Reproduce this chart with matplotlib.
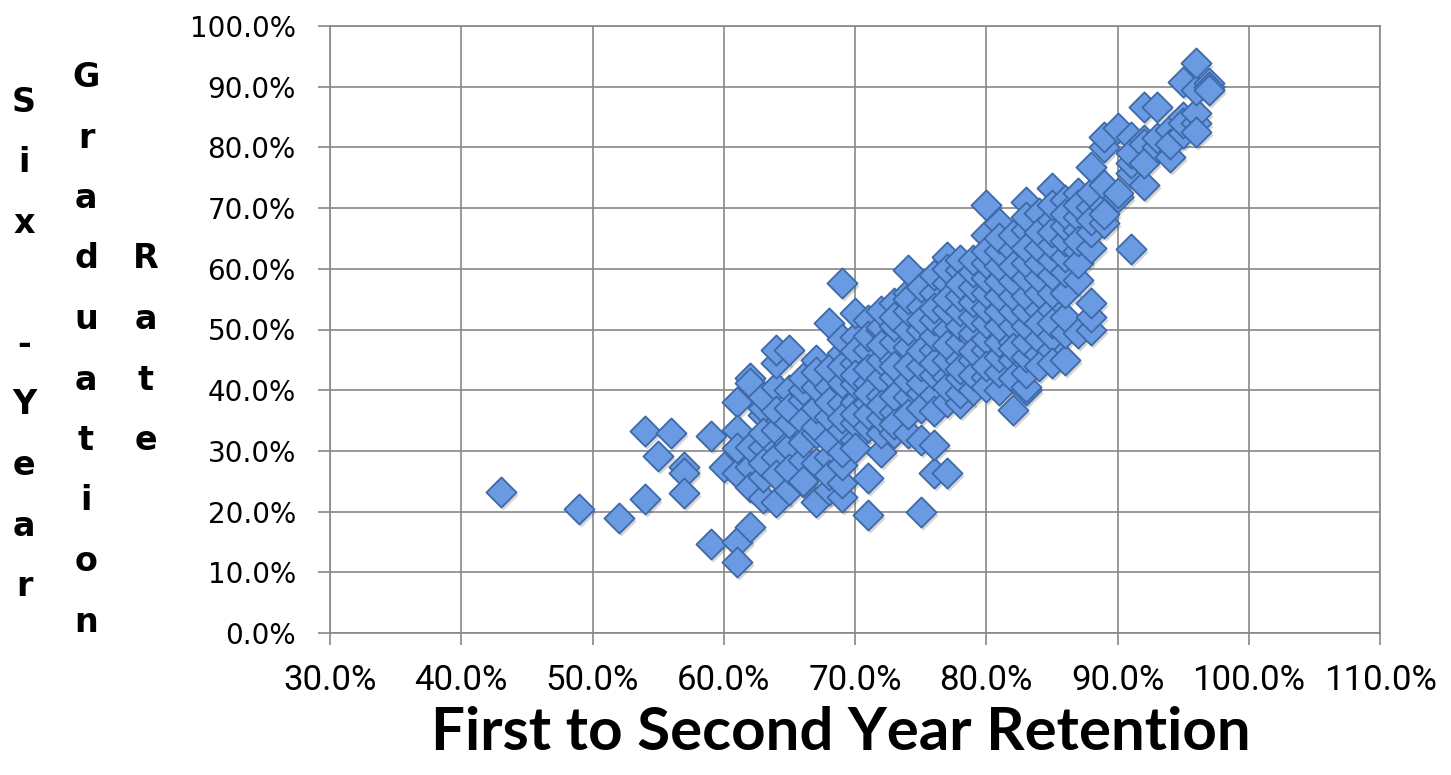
import numpy as np
import matplotlib
matplotlib.use("Agg")
import matplotlib.pyplot as plt
from matplotlib.transforms import offset_copy

# retention (x, %) and six-year graduation rate (y, %), grouped by retention value
retention = (
    [43, 49, 52, 54, 54, 55, 56, 57, 57, 57, 59, 59, 60]
    + [61] * 6 + [62] * 6 + [63] * 8 + [64] * 8 + [65] * 8 + [66] * 8 + [67] * 8
    + [68] * 9 + [69] * 12 + [70] * 11 + [71] * 11 + [72] * 11 + [73] * 11 + [74] * 11
    + [75] * 11 + [76] * 12 + [77] * 12 + [78] * 12 + [79] * 11 + [80] * 13 + [81] * 12
    + [82] * 12 + [83] * 14 + [84] * 11 + [85] * 13 + [86] * 10 + [87] * 9 + [88] * 9
    + [89] * 6 + [90] * 3 + [91] * 5 + [92] * 5 + [93] * 3 + [94] * 3 + [95] * 4
    + [96] * 5 + [97] * 3
)
grad_rate = (
    [23.2, 20.5, 19.0, 22.0, 33.3, 29.2, 33.0, 27.3, 26.3, 23.0, 32.4, 14.7, 27.3]
    + [38.0, 33.4, 26.4, 15.0, 11.7, 30.5]
    + [17.5, 42.0, 41.2, 27.3, 30.6, 24.0]
    + [22.2, 25.7, 30.6, 35.9, 37.0, 38.9, 33.0, 28.0]
    + [21.5, 29.0, 33.4, 40.5, 44.5, 46.6, 26.0, 36.5]
    + [23.5, 31.3, 30.6, 34.6, 40.0, 46.6, 27.0, 37.0]
    + [24.9, 28.5, 38.4, 40.0, 25.0, 35.0, 42.0, 31.5]
    + [21.6, 28.0, 32.9, 33.9, 45.0, 37.0, 40.5, 43.0]
    + [23.5, 29.0, 31.8, 35.6, 40.5, 51.1, 38.0, 43.5, 26.0]
    + [22.4, 24.7, 27.7, 29.8, 37.9, 41.2, 46.1, 57.7, 33.5, 44.0, 35.5, 48.5]
    + [31.8, 34.6, 44.5, 48.8, 52.7, 38.0, 41.0, 36.0, 46.5, 42.5, 30.5]
    + [19.4, 25.5, 33.9, 37.9, 41.2, 46.6, 51.6, 36.0, 43.5, 39.5, 49.0]
    + [29.8, 32.9, 49.9, 50.4, 35.5, 39.0, 42.0, 45.0, 47.5, 53.0, 37.5]
    + [32.9, 36.4, 42.2, 45.0, 54.4, 39.0, 48.0, 50.5, 52.0, 34.5, 44.0]
    + [32.9, 38.9, 47.1, 56.0, 59.8, 41.5, 44.0, 50.0, 53.0, 36.0, 55.0]
    + [19.9, 31.8, 39.5, 41.2, 49.9, 53.7, 44.0, 46.5, 37.0, 51.5, 57.0]
    + [26.4, 31.0, 39.2, 46.6, 56.0, 42.5, 44.5, 49.0, 51.5, 53.5, 59.0, 36.5]
    + [26.4, 42.2, 49.9, 53.2, 57.7, 62.0, 38.0, 40.5, 45.0, 47.5, 55.0, 60.0]
    + [37.9, 39.5, 45.0, 59.8, 61.4, 42.0, 48.0, 50.5, 53.0, 55.5, 57.5, 43.5]
    + [45.0, 48.8, 49.4, 40.0, 42.5, 52.0, 54.5, 57.0, 59.5, 61.5, 46.5]
    + [42.2, 46.6, 65.5, 70.5, 40.5, 48.5, 51.0, 53.5, 56.0, 58.5, 61.0, 63.0, 44.0]
    + [40.0, 67.5, 43.0, 45.5, 48.0, 50.5, 53.0, 55.5, 58.0, 60.5, 63.0, 65.0]
    + [36.7, 45.0, 63.1, 42.0, 48.0, 50.5, 53.0, 55.5, 58.0, 60.5, 65.5, 47.0]
    + [40.0, 40.5, 42.8, 66.4, 71.0, 45.5, 48.0, 50.5, 53.0, 55.5, 58.5, 61.0, 63.5, 68.5]
    + [53.2, 69.2, 46.0, 48.5, 51.0, 56.0, 58.5, 61.0, 63.5, 66.0, 44.0]
    + [46.6, 53.2, 56.0, 68.0, 73.3, 49.0, 51.0, 59.0, 61.5, 64.0, 66.0, 70.5, 44.5]
    + [45.0, 49.4, 71.3, 52.0, 56.0, 59.5, 62.0, 64.5, 67.0, 69.0]
    + [49.4, 58.2, 63.0, 66.4, 72.5, 61.0, 68.5, 70.5, 64.5]
    + [50.0, 52.0, 54.3, 70.2, 72.5, 76.8, 63.5, 66.0, 68.0]
    + [67.5, 70.2, 73.8, 80.0, 81.7, 69.0]
    + [71.8, 83.2, 72.5]
    + [63.2, 75.8, 77.4, 81.7, 79.0]
    + [73.8, 81.2, 86.7, 80.5, 77.5]
    + [80.0, 86.7, 81.5]
    + [78.4, 82.9, 80.5]
    + [82.4, 85.0, 90.8, 84.0]
    + [84.0, 85.7, 89.5, 93.9, 82.5]
    + [90.6, 90.0, 89.5]
)

x_ticks = [30, 40, 50, 60, 70, 80, 90, 100, 110]
y_ticks = [0, 10, 20, 30, 40, 50, 60, 70, 80, 90, 100]
x_title = "First to Second Year Retention"
y_title_words = ["Six -Year", "Graduation", "Rate"]

x = np.array(retention) / 100.0
y = np.array(grad_rate) / 100.0

fig = plt.figure(figsize=(14.51, 7.75), dpi=100)
ax = fig.add_axes([330 / 1451, 1 - 633 / 775, 1050 / 1451, 607 / 775])

grid_c = "#878787"
ax.set_xlim(0.30, 1.10)
ax.set_ylim(0.0, 1.0)
ax.set_xticks([v / 100 for v in x_ticks])
ax.set_yticks([v / 100 for v in y_ticks])
ax.set_xticklabels([f"{v:.1f}%" for v in x_ticks], fontfamily=["Roboto", "DejaVu Sans"], fontsize=25)
ax.set_yticklabels([f"{v:.1f}%" for v in y_ticks], fontfamily="DejaVu Sans", fontsize=20)
ax.grid(True, color=grid_c, linewidth=1.2)
ax.set_axisbelow(True)
for s in ax.spines.values():
    s.set_color(grid_c)
    s.set_linewidth(1.2)
ax.tick_params(axis="both", direction="out", length=8.6, width=1.2, color=grid_c)
ax.tick_params(axis="y", pad=16)
ax.tick_params(axis="x", pad=14)

# soft drop shadow under the diamonds, then the markers
shadow = offset_copy(ax.transData, fig=fig, x=2, y=-3, units="dots")
ax.scatter(x, y, marker="D", s=235, color="#444444", alpha=0.22, linewidths=0,
           transform=shadow, zorder=2)
ax.scatter(x, y, marker="D", s=235, facecolor="#6A9BE2", edgecolor="#3D69A8",
           linewidths=1.3, zorder=3)

# x title: bold humanist face, sized to span the same width as the original
t = fig.text(841 / 1451, 1 - 750 / 775, x_title, ha="center", va="baseline",
             fontsize=49, fontweight="bold", family=["Lato", "DejaVu Sans"])
fig.canvas.draw()
w = t.get_window_extent().width
t.set_fontsize(49 * 818 / w)

# vertical, letter-stacked y title (wrapped in three columns)
col_x = [24, 86, 146]
col_start = [112, 87, 268.5]
pitch = 60.5
for cx, y0, word in zip(col_x, col_start, y_title_words):
    for i, ch in enumerate(word):
        if ch == " ":
            continue
        fig.text(cx / 1451, 1 - (y0 + i * pitch) / 775, ch, ha="center", va="baseline",
                 fontsize=24, fontweight="bold", family="DejaVu Sans")

fig.savefig("out.png", dpi=100)
